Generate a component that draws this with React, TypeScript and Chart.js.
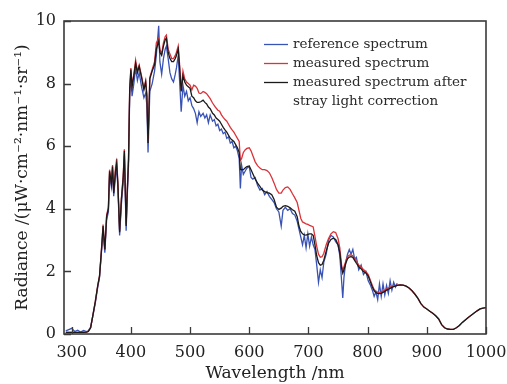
import { useEffect, useRef } from "react";
import { Chart, registerables } from "chart.js";

Chart.register(...registerables);

const FONT = '"DejaVu Serif", serif';

const wavelengths = [
  290, 295, 300, 305, 310, 315, 320, 325, 328, 332,
  336, 340, 344, 347, 350, 353, 356, 359, 362, 364,
  367, 369, 371, 374, 376, 378, 381, 384, 387, 389,
  392, 394, 396, 398, 400, 402, 405, 408, 411, 414,
  418, 422, 425, 427, 429, 432, 436, 440, 443, 447,
  449, 452, 455, 458, 460, 463, 466, 469, 472, 475,
  477, 480, 482, 485, 488, 491, 494, 497, 500, 503,
  506, 509, 512, 515, 518, 522, 525, 528, 531, 534,
  538, 541, 544, 547, 550, 553, 556, 559, 562, 565,
  568, 571, 574, 577, 580, 583, 585, 587, 590, 593,
  596, 600, 603, 606, 610, 614, 618, 622, 626, 630,
  634, 638, 642, 646, 650, 654, 657, 661, 665, 669,
  673, 677, 681, 684, 687, 690, 693, 696, 699, 702,
  705, 708, 711, 714, 717, 720, 723, 726, 730, 734,
  738, 742, 746, 750, 753, 756, 758, 760, 763, 766,
  769, 772, 775, 778, 781, 785, 789, 793, 797, 801,
  805, 808, 811, 814, 817, 820, 823, 826, 829, 832,
  835, 838, 841, 844, 847, 850, 855, 860, 865, 870,
  875, 880, 885, 890, 895, 900, 905, 910, 915, 920,
  925, 930, 935, 940, 945, 950, 955, 960, 965, 970,
  975, 980, 985, 990, 995, 1000,
];

const correctedSpectrum = [
  0.05, 0.05, 0.05, 0.05, 0.05, 0.05, 0.05, 0.06, 0.08, 0.2,
  0.62, 1.05, 1.55, 1.85, 2.6, 3.45, 2.7, 3.75, 4.0, 5.2,
  4.8, 5.35, 4.5, 5.2, 5.45, 4.8, 3.25, 4.3, 5.0, 5.85,
  3.45, 4.6, 5.55, 7.8, 8.45, 7.9, 8.25, 8.65, 8.35, 8.55,
  8.2, 7.8, 8.05, 7.6, 6.1, 8.15, 8.4, 8.6, 9.1, 9.35,
  9.0, 8.9, 9.2, 9.4, 9.45, 9.0, 8.8, 8.7, 8.7, 8.8,
  8.9, 9.1, 8.6, 7.75, 8.25, 8.05, 7.95, 7.9, 7.85, 7.6,
  7.55, 7.45, 7.4, 7.4, 7.42, 7.47, 7.4, 7.35, 7.25, 7.2,
  7.05, 7.0, 6.9, 6.85, 6.8, 6.7, 6.6, 6.52, 6.45, 6.35,
  6.25, 6.2, 6.15, 6.05, 5.95, 5.8, 5.25, 5.25, 5.25, 5.3,
  5.35, 5.37, 5.25, 5.12, 4.95, 4.82, 4.72, 4.6, 4.55, 4.52,
  4.5, 4.45, 4.3, 4.05, 3.98, 4.02, 4.08, 4.1, 4.08, 4.03,
  3.97, 3.92, 3.75, 3.45, 3.28, 3.2, 3.17, 3.16, 3.18, 3.2,
  3.2, 3.15, 2.85, 2.5, 2.28, 2.2, 2.22, 2.36, 2.65, 2.9,
  3.02, 3.06, 3.02, 2.85, 2.6, 2.1, 1.94, 2.05, 2.25, 2.4,
  2.46, 2.47, 2.45, 2.35, 2.26, 2.15, 2.08, 2.0, 1.95, 1.85,
  1.65, 1.5, 1.38, 1.32, 1.3, 1.29, 1.3, 1.33, 1.36, 1.4,
  1.43, 1.46, 1.49, 1.51, 1.53, 1.55, 1.57, 1.56, 1.53, 1.47,
  1.38, 1.27, 1.14, 0.97, 0.86, 0.8, 0.73, 0.66, 0.58, 0.48,
  0.3, 0.2, 0.16, 0.15, 0.15, 0.2, 0.27, 0.37, 0.45, 0.53,
  0.6, 0.67, 0.74, 0.8, 0.83, 0.84,
];

const measuredSpectrum = [
  0.05, 0.05, 0.05, 0.05, 0.05, 0.05, 0.05, 0.06, 0.08, 0.2,
  0.62, 1.05, 1.55, 1.85, 2.6, 3.5, 2.7, 3.8, 4.05, 5.25,
  4.85, 5.4, 4.55, 5.3, 5.6, 4.85, 3.3, 4.35, 5.05, 5.9,
  3.5, 4.65, 5.6, 7.85, 8.5, 7.95, 8.3, 8.75, 8.4, 8.6,
  8.25, 7.85, 8.1, 7.65, 6.15, 8.2, 8.45, 8.7, 9.3, 9.45,
  9.1, 8.95, 9.3, 9.5, 9.55, 9.1, 8.95, 8.8, 8.8, 8.9,
  9.0, 9.2, 8.7, 7.8, 8.4, 8.15, 8.05, 8.0, 7.95, 7.8,
  7.95, 7.92, 7.85, 7.7, 7.68, 7.75, 7.72, 7.68, 7.6, 7.52,
  7.38, 7.3, 7.22, 7.15, 7.12, 7.0, 6.92, 6.85, 6.8, 6.7,
  6.6, 6.52, 6.45, 6.35, 6.25, 6.15, 5.55, 5.6, 5.8, 5.88,
  5.93, 5.95, 5.85, 5.7, 5.5, 5.38, 5.3, 5.25, 5.25, 5.22,
  5.15, 5.0, 4.82, 4.62, 4.5, 4.5, 4.6, 4.68, 4.7, 4.62,
  4.48, 4.35, 4.2, 3.95, 3.7, 3.58, 3.55, 3.52, 3.5, 3.47,
  3.45, 3.42, 3.12, 2.8, 2.55, 2.45, 2.47, 2.58, 2.85, 3.05,
  3.2, 3.27, 3.24, 3.05, 2.75, 2.2, 2.04, 2.15, 2.32, 2.47,
  2.52, 2.53, 2.5, 2.42, 2.32, 2.2, 2.13, 2.06, 2.0, 1.9,
  1.7, 1.55, 1.42, 1.36, 1.34, 1.33, 1.34, 1.37, 1.4, 1.44,
  1.47, 1.5, 1.52, 1.54, 1.55, 1.56, 1.57, 1.56, 1.53, 1.47,
  1.38, 1.27, 1.14, 0.97, 0.86, 0.8, 0.73, 0.66, 0.58, 0.48,
  0.3, 0.2, 0.16, 0.15, 0.15, 0.2, 0.27, 0.37, 0.45, 0.53,
  0.6, 0.67, 0.74, 0.8, 0.83, 0.84,
];

// reference spectrum only covers 290–850 nm
const referenceSpectrum = [
  0.1, 0.14, 0.18, 0.08, 0.12, 0.06, 0.11, 0.08, 0.1, 0.22,
  0.6, 1.0, 1.5, 1.8, 2.55, 3.3, 2.6, 3.65, 3.9, 5.1,
  4.7, 5.25, 4.4, 5.05, 5.3, 4.7, 3.15, 4.15, 4.85, 5.7,
  3.3, 4.45, 5.4, 7.6, 8.3, 7.6, 8.0, 8.5, 8.1, 8.35,
  7.9, 7.55, 7.7, 7.3, 5.8, 7.75, 8.0, 8.4, 8.9, 9.85,
  8.7, 8.3, 8.8, 9.1, 9.2, 8.8, 8.35, 8.15, 8.05, 8.3,
  8.5, 8.9, 8.2, 7.1, 7.95, 7.6, 7.75, 7.45, 7.55, 7.3,
  7.2, 7.05, 6.75, 7.1, 6.95, 7.05, 6.9, 7.0, 6.75, 7.0,
  6.8, 6.85, 6.65, 6.7, 6.5, 6.55, 6.4, 6.45, 6.25, 6.3,
  6.1, 6.15, 5.95, 6.0, 5.85, 5.6, 4.65, 5.4, 5.1, 5.2,
  5.3, 5.35, 5.0, 4.95, 5.0, 4.75, 4.6, 4.65, 4.45, 4.55,
  4.4, 4.3, 4.2, 4.0, 3.9, 3.45, 3.95, 4.05, 3.95, 4.0,
  3.85, 3.8, 3.6, 3.35, 3.1, 2.85, 3.15, 2.75, 3.2, 2.8,
  3.1, 2.85, 2.7, 2.2, 1.65, 2.05, 1.8, 2.3, 2.55, 3.0,
  3.15, 3.1, 2.95, 2.85, 2.5, 1.7, 1.15, 1.8, 2.3, 2.55,
  2.7, 2.55, 2.7, 2.4, 2.45, 2.05, 2.2, 1.9, 2.0, 1.7,
  1.55, 1.4, 1.2, 1.35, 1.1, 1.6, 1.2, 1.6, 1.25, 1.55,
  1.3, 1.7, 1.4, 1.65, 1.5, 1.62,
];

const xTickValues = [300, 400, 500, 600, 700, 800, 900, 1000];
const yTickValues = [0, 2, 4, 6, 8, 10];

const legendItems = [
  { label: ["reference spectrum"], color: "#3953b5" },
  { label: ["measured spectrum"], color: "#d9343a" },
  { label: ["measured spectrum after", "stray light correction"], color: "#1a1a1a" },
];

const toPoints = (vals: number[]) => vals.map((v, i) => ({ x: wavelengths[i], y: v }));

const framePlugin = {
  id: "frameAndLegend",
  afterDatasetsDraw(chart: any) {
    const { ctx, chartArea: a, scales } = chart;
    ctx.save();
    ctx.strokeStyle = "#3a3a3a";
    ctx.lineWidth = 1.3;
    ctx.beginPath();
    for (const v of xTickValues) {
      const px = Math.round(scales.x.getPixelForValue(v)) + 0.5;
      ctx.moveTo(px, a.bottom);
      ctx.lineTo(px, a.bottom - 7);
    }
    for (const v of yTickValues) {
      const py = Math.round(scales.y.getPixelForValue(v)) + 0.5;
      ctx.moveTo(a.left, py);
      ctx.lineTo(a.left + 7, py);
    }
    ctx.stroke();
    ctx.lineWidth = 1.6;
    ctx.strokeRect(a.left, a.top, a.right - a.left, a.bottom - a.top);

    // legend
    ctx.font = `13.5px ${FONT}`;
    ctx.textBaseline = "middle";
    ctx.textAlign = "left";
    let y = 44;
    for (const item of legendItems) {
      ctx.strokeStyle = item.color;
      ctx.lineWidth = 1.3;
      ctx.beginPath();
      ctx.moveTo(264, y + 0.5);
      ctx.lineTo(288, y + 0.5);
      ctx.stroke();
      ctx.fillStyle = "#2a2a2a";
      for (const line of item.label) {
        ctx.fillText(line, 293, y);
        y += 19;
      }
    }
    ctx.restore();
  },
};

export default function App() {
  const ref = useRef<HTMLCanvasElement>(null);
  useEffect(() => {
    if (!ref.current) return;
    const chart = new Chart(ref.current, {
      type: "line",
      data: {
        datasets: [
          {
            label: "measured spectrum after stray light correction",
            data: toPoints(correctedSpectrum),
            borderColor: "#1a1a1a",
            borderWidth: 1.3,
            pointRadius: 0,
            order: 0,
          },
          {
            label: "measured spectrum",
            data: toPoints(measuredSpectrum),
            borderColor: "#d9343a",
            borderWidth: 1.3,
            pointRadius: 0,
            order: 1,
          },
          {
            label: "reference spectrum",
            data: toPoints(referenceSpectrum),
            borderColor: "#3953b5",
            borderWidth: 1.3,
            pointRadius: 0,
            order: 2,
          },
        ],
      },
      options: {
        responsive: false,
        animation: false,
        layout: { padding: { top: 21, right: 21, left: 0, bottom: 0 } },
        plugins: { legend: { display: false }, tooltip: { enabled: false } },
        scales: {
          x: {
            type: "linear",
            min: 287,
            max: 1000,
            grid: { display: false, drawTicks: false },
            border: { display: false },
            afterBuildTicks: (s: any) => {
              s.ticks = xTickValues.map((v) => ({ value: v }));
            },
            afterFit: (s: any) => {
              s.height = 50;
              s.paddingLeft = 0;
              s.paddingRight = 0;
            },
            ticks: {
              padding: 9,
              maxRotation: 0,
              autoSkip: false,
              color: "#222",
              font: { family: FONT, size: 16 },
              callback: (v: any) => String(v),
            },
            title: {
              display: true,
              text: "Wavelength /nm",
              color: "#222",
              font: { family: FONT, size: 17 },
              padding: { top: 0, bottom: 0 },
            },
          },
          y: {
            min: 0,
            max: 10,
            grid: { display: false, drawTicks: false },
            border: { display: false },
            afterBuildTicks: (s: any) => {
              s.ticks = yTickValues.map((v) => ({ value: v }));
            },
            afterFit: (s: any) => {
              s.width = 64;
              s.paddingTop = 0;
              s.paddingBottom = 0;
            },
            ticks: {
              padding: 8,
              color: "#222",
              font: { family: FONT, size: 16 },
              callback: (v: any) => String(v),
            },
            title: {
              display: true,
              text: "Radiance /(μW·cm⁻²·nm⁻¹·sr⁻¹)",
              color: "#222",
              font: { family: FONT, size: 17 },
              padding: { top: 12, bottom: 0 },
            },
          },
        },
      },
      plugins: [framePlugin],
    } as any);
    return () => chart.destroy();
  }, []);
  return (
    <div style={{ position: "absolute", left: 0, top: 0, width: 507, height: 384 }}>
      <canvas ref={ref} width={507} height={384} />
    </div>
  );
}
